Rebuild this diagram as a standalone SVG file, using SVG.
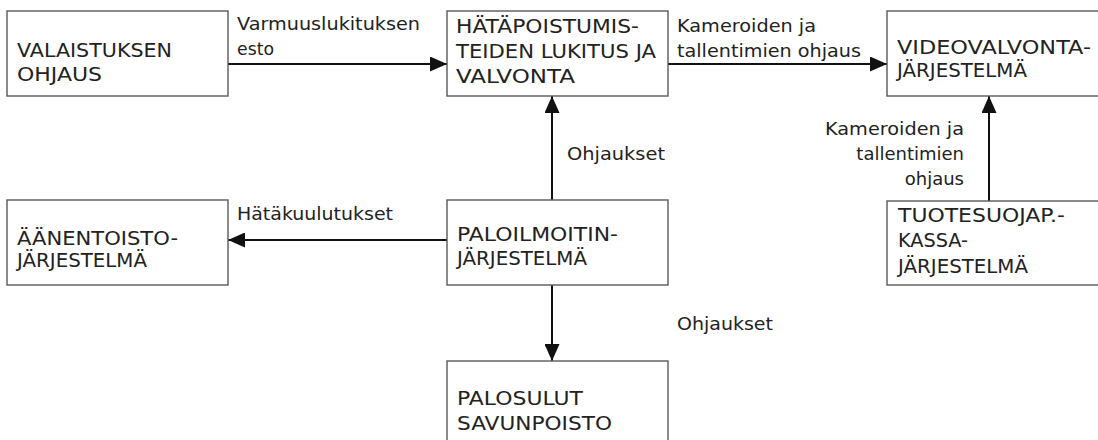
<svg xmlns="http://www.w3.org/2000/svg" width="1098" height="440" viewBox="0 0 1098 440">
  <style>
    .box { fill: #ffffff; stroke: #5a5a5a; stroke-width: 1.4; }
    .lbl { font-family: "DejaVu Sans", "Liberation Sans", sans-serif; font-size: 18px; fill: #222222; }
    .cap { font-family: "DejaVu Sans", "Liberation Sans", sans-serif; font-size: 19px; fill: #222222; }
    .edge { stroke: #111111; stroke-width: 2; fill: none; marker-end: url(#arrow); }
  </style>
  <defs>
    <marker id="arrow" markerUnits="userSpaceOnUse" markerWidth="17" markerHeight="15" refX="17" refY="7.5" orient="auto">
      <path d="M0,0 L17,7.5 L0,15 Z" fill="#111111"/>
    </marker>
  </defs>
  <rect width="1098" height="440" fill="#ffffff"/>

  <!-- connectors -->
  <g id="connectors">
    <line class="edge" x1="228" y1="64" x2="447" y2="64"/>
    <line class="edge" x1="668" y1="64" x2="887" y2="64"/>
    <line class="edge" x1="552" y1="200" x2="552" y2="96"/>
    <line class="edge" x1="447" y1="240" x2="228" y2="240"/>
    <line class="edge" x1="552" y1="285" x2="552" y2="361"/>
    <line class="edge" x1="989" y1="201" x2="989" y2="96"/>
    <g class="lbl">
      <text x="237" y="30" textLength="183" lengthAdjust="spacingAndGlyphs">Varmuuslukituksen</text>
      <text x="237" y="55" textLength="37" lengthAdjust="spacingAndGlyphs">esto</text>
      <text x="677" y="32" textLength="139" lengthAdjust="spacingAndGlyphs">Kameroiden ja</text>
      <text x="677" y="57" textLength="184" lengthAdjust="spacingAndGlyphs">tallentimien ohjaus</text>
      <text x="567" y="160" textLength="98" lengthAdjust="spacingAndGlyphs">Ohjaukset</text>
      <text x="237" y="220" textLength="156" lengthAdjust="spacingAndGlyphs">Hätäkuulutukset</text>
      <text x="677" y="330" textLength="96" lengthAdjust="spacingAndGlyphs">Ohjaukset</text>
      <text x="825" y="135" textLength="139" lengthAdjust="spacingAndGlyphs">Kameroiden ja</text>
      <text x="964" y="160" text-anchor="end">tallentimien</text>
      <text x="964" y="185" text-anchor="end">ohjaus</text>
    </g>
  </g>

  <!-- nodes -->
  <g id="valaistus">
    <rect class="box" x="7" y="11" width="221" height="85"/>
    <text class="cap" x="17" y="57" textLength="155" lengthAdjust="spacingAndGlyphs">VALAISTUKSEN</text>
    <text class="cap" x="17" y="81" textLength="85" lengthAdjust="spacingAndGlyphs">OHJAUS</text>
  </g>
  <g id="hatapoistumistiet">
    <rect class="box" x="447" y="11" width="221" height="85"/>
    <text class="cap" x="456" y="33" textLength="183" lengthAdjust="spacingAndGlyphs">HÄTÄPOISTUMIS-</text>
    <text class="cap" x="456" y="58" textLength="200" lengthAdjust="spacingAndGlyphs">TEIDEN LUKITUS JA</text>
    <text class="cap" x="456" y="83" textLength="119" lengthAdjust="spacingAndGlyphs">VALVONTA</text>
  </g>
  <g id="videovalvonta">
    <rect class="box" x="887" y="11" width="220" height="85"/>
    <text class="cap" x="897" y="54" textLength="194" lengthAdjust="spacingAndGlyphs">VIDEOVALVONTA-</text>
    <text class="cap" x="897" y="77" textLength="130" lengthAdjust="spacingAndGlyphs">JÄRJESTELMÄ</text>
  </g>
  <g id="aanentoisto">
    <rect class="box" x="7" y="200" width="221" height="85"/>
    <text class="cap" x="17" y="245" textLength="161" lengthAdjust="spacingAndGlyphs">ÄÄNENTOISTO-</text>
    <text class="cap" x="17" y="267" textLength="130" lengthAdjust="spacingAndGlyphs">JÄRJESTELMÄ</text>
  </g>
  <g id="paloilmoitin">
    <rect class="box" x="447" y="200" width="221" height="85"/>
    <text class="cap" x="457" y="241" textLength="161" lengthAdjust="spacingAndGlyphs">PALOILMOITIN-</text>
    <text class="cap" x="457" y="265" textLength="130" lengthAdjust="spacingAndGlyphs">JÄRJESTELMÄ</text>
  </g>
  <g id="palosulut">
    <rect class="box" x="447" y="361" width="221" height="90"/>
    <text class="cap" x="457" y="405" textLength="126" lengthAdjust="spacingAndGlyphs">PALOSULUT</text>
    <text class="cap" x="457" y="430" textLength="155" lengthAdjust="spacingAndGlyphs">SAVUNPOISTO</text>
  </g>
  <g id="tuotesuojaus">
    <rect class="box" x="887" y="201" width="220" height="84"/>
    <text class="cap" x="898" y="222" textLength="167" lengthAdjust="spacingAndGlyphs">TUOTESUOJAP.-</text>
    <text class="cap" x="898" y="247" textLength="70" lengthAdjust="spacingAndGlyphs">KASSA-</text>
    <text class="cap" x="898" y="273" textLength="130" lengthAdjust="spacingAndGlyphs">JÄRJESTELMÄ</text>
  </g>
</svg>
